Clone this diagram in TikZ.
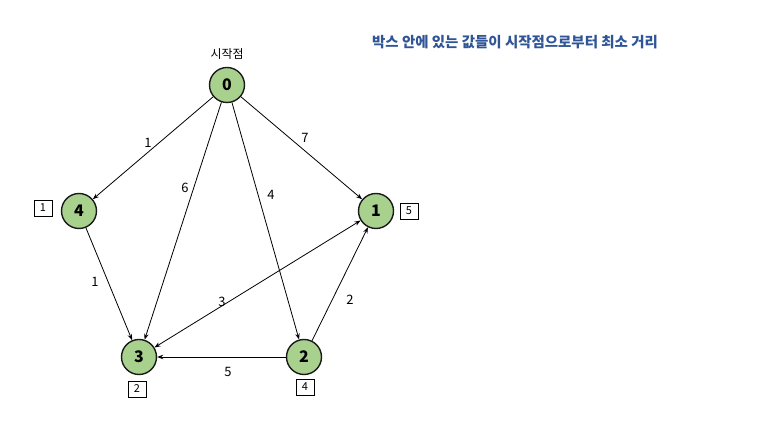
\documentclass[tikz,border=0pt]{standalone}
\usepackage{fontspec}
\setmainfont{Noto Sans CJK KR}
\usepackage{xcolor}
\usetikzlibrary{arrows.meta,positioning,calc}
\definecolor{cVtxF}{HTML}{A9D18E}
\definecolor{cVtxL}{HTML}{1A1A1A}
\definecolor{cTitle}{HTML}{2F5597}
\tikzset{
  vtx/.style={circle,draw=cVtxL,fill=cVtxF,line width=1.4bp,minimum size=35bp,
      inner sep=0pt,font=\fontsize{16}{17}\selectfont\bfseries},
  distbox/.style={draw=black,line width=0.9bp,minimum width=18bp,minimum height=16bp,
      inner sep=0pt,font=\fontsize{11}{12}\selectfont},
  edg/.style={-{Stealth[length=6bp,width=4.5bp]},line width=0.8bp,draw=black},
  bidg/.style={{Stealth[length=6bp,width=4.5bp]}-{Stealth[length=6bp,width=4.5bp]},
      line width=0.8bp,draw=black},
  wlab/.style={font=\fontsize{13}{14}\selectfont,inner sep=1pt},
}
\newcommand{\vtx}[4]{%
  \node[vtx] (#1) at (#2,#3) {#4};}
\newcommand{\dist}[4]{%
  \node[distbox] (#1) at (#2,#3) {#4};}

\begin{document}
\begin{tikzpicture}[x=1bp,y=1bp]
  \useasboundingbox (0,0) rectangle (773,435);

  \node[font=\fontsize{14.5}{16}\selectfont\bfseries,text=cTitle] (title) at (515,393)
    {박스 안에 있는 값들이 시작점으로부터 최소 거리};

  \vtx{v0}{227}{350}{0}
  \vtx{v4}{79}{224}{4}
  \vtx{v1}{376}{224}{1}
  \vtx{v3}{139}{78}{3}
  \vtx{v2}{304}{78}{2}
  \node[font=\fontsize{12}{13}\selectfont] (start) at (227,381) {시작점};

  \dist{d4}{43}{227}{1}
  \dist{d1}{409}{224}{5}
  \dist{d3}{137}{46}{2}
  \dist{d2}{305}{48}{4}

  \draw[edg] (v0) -- (v4);
  \draw[edg] (v0) -- (v1);
  \draw[edg] (v0) -- (v3);
  \draw[edg] (v0) -- (v2);
  \draw[edg] (v4) -- (v3);
  \draw[bidg] (v3) -- (v1);
  \draw[edg] (v2) -- (v1);
  \draw[edg] (v2.west) -- (v3.east);

  \node[wlab] (w04) at (148,292) {1};
  \node[wlab] (w01) at (305,297) {7};
  \node[wlab] (w03) at (185,247) {6};
  \node[wlab] (w02) at (271,240) {4};
  \node[wlab] (w43) at (95,153) {1};
  \node[wlab] (w31) at (222,133) {3};
  \node[wlab] (w21) at (350,135) {2};
  \node[wlab] (w23) at (228,63) {5};
\end{tikzpicture}
\end{document}
